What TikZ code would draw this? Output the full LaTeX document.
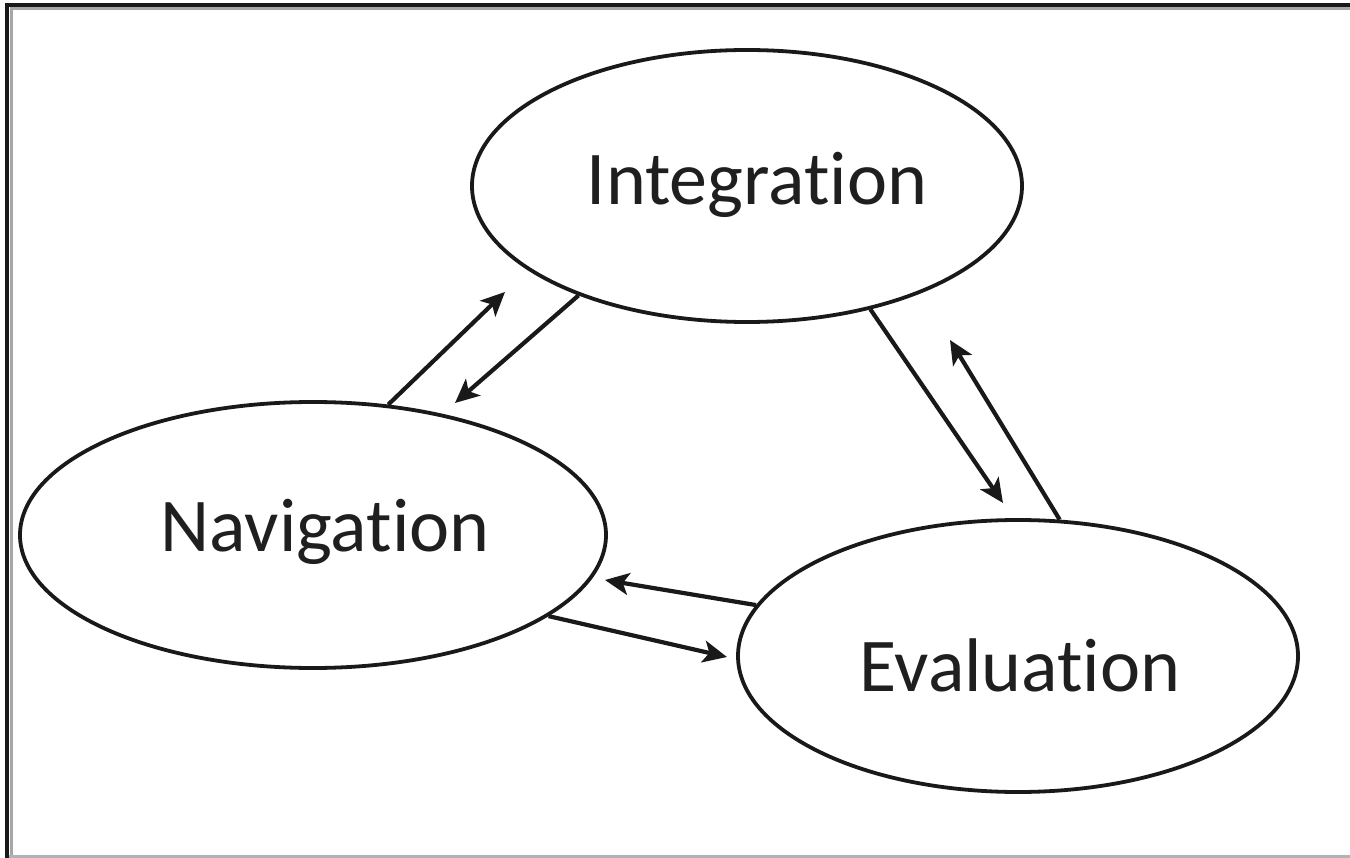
\documentclass[tikz,border=0pt]{standalone}
\usepackage{fontspec}
\setmainfont[Ligatures={NoCommon}]{Carlito}
\usetikzlibrary{arrows.meta,shapes.geometric}
\begin{document}
\begin{tikzpicture}[x=1pt,y=-1pt,
  bubble/.style={draw=black!90, line width=3.8pt, ellipse, inner sep=0pt},
  caption/.style={font=\fontsize{76}{80}\selectfont, text height=49pt, text depth=0pt,
    inner sep=0pt, text=black!88},
  link/.style={draw=black!90, line width=4.2pt, -{Stealth[length=24pt,width=22pt,inset=6pt]}}]
\useasboundingbox (0,0) rectangle (1350,858);
\fill[white] (0,0) rectangle (1350,858);
% frame
\draw[black!90, line width=4pt] (7,858) -- (7,5) -- (1352,5);
\draw[black!35, line width=3pt] (11.5,858) -- (11.5,8.5) -- (1352,8.5);
\draw[black!30, line width=3pt] (9,856.5) -- (1352,856.5);
% nodes
\node[bubble, minimum width=550pt, minimum height=272pt,
  label={[caption, anchor=center, xshift=10pt, yshift=6pt]center:Integration}] (int) at (747,186) {};
\node[bubble, minimum width=586pt, minimum height=266pt,
  label={[caption, anchor=center, xshift=12pt, yshift=8pt]center:Navigation}] (nav) at (313,535) {};
\node[bubble, minimum width=560pt, minimum height=272pt,
  label={[caption, anchor=center, xshift=2pt, yshift=-11pt]center:Evaluation}] (eva) at (1018,656) {};
% arrow tips
\coordinate (t1) at (505,292);
\coordinate (t2) at (455,403);
\coordinate (t3) at (1003,503);
\coordinate (t4) at (950,340);
\coordinate (t5) at (605,580);
\coordinate (t6) at (727,657);
% connectors
\draw[link] (nav.60) -- (t1);
\draw[link] (int.213) -- (t2);
\draw[link] (int.315) -- (t3);
\draw[link] (eva.73) -- (t4);
\draw[link] (eva.169) -- (t5);
\draw[link] (nav.341.5) -- (t6);
\end{tikzpicture}
\end{document}
